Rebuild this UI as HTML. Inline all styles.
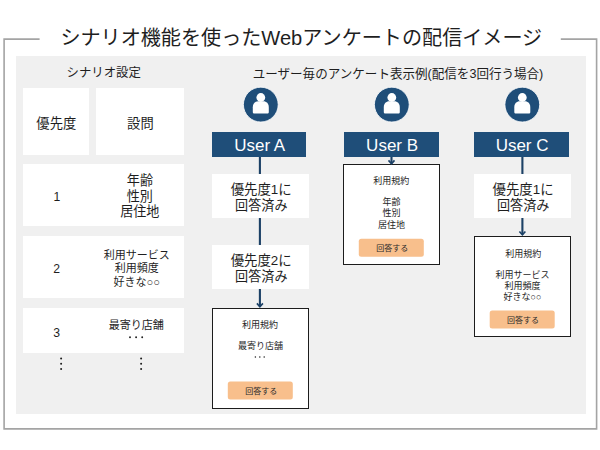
<!DOCTYPE html>
<html lang="ja">
<head>
<meta charset="utf-8">
<title>シナリオ機能を使ったWebアンケートの配信イメージ</title>
<style>
html,body{margin:0;padding:0;background:#fff}
body{width:600px;height:450px;position:relative;overflow:hidden;font-family:"Liberation Sans","Noto Sans CJK JP",sans-serif}
div{position:absolute;box-sizing:border-box}
.panel{background:#f0f0f0}
.w{background:#fff}
.bar{background:#1f4e79}
.form{background:#fff;border:1px solid #1c1c1c}
.btn{background:#f8bf8c;border-radius:2px}
#art{position:absolute;left:0;top:0;width:600px;height:450px}
#art text{font-family:"Liberation Sans","Noto Sans CJK JP",sans-serif;text-anchor:middle;fill:#1e1e1e}
</style>
</head>
<body>
<div class="panel" style="left:16px;top:56px;width:570px;height:358px"></div>
<div class="w" style="left:23px;top:88px;width:66px;height:67px"></div>
<div class="w" style="left:96px;top:88px;width:88px;height:67px"></div>
<div class="w" style="left:23px;top:164px;width:161px;height:62px"></div>
<div class="w" style="left:23px;top:236px;width:161px;height:62px"></div>
<div class="w" style="left:23px;top:308px;width:161px;height:45px"></div>
<div class="bar" style="left:212px;top:132px;width:94px;height:25px"></div>
<div class="bar" style="left:344px;top:132px;width:95px;height:25px"></div>
<div class="bar" style="left:474px;top:132px;width:95px;height:25px"></div>
<div class="w" style="left:212px;top:174px;width:97px;height:44px"></div>
<div class="w" style="left:212px;top:245px;width:97px;height:44px"></div>
<div class="form" style="left:212px;top:308px;width:97px;height:101px"></div>
<div class="form" style="left:343px;top:164px;width:97px;height:101px"></div>
<div class="w" style="left:474px;top:174px;width:97px;height:44px"></div>
<div class="form" style="left:474px;top:236px;width:97px;height:101px"></div>
<svg id="art" width="600" height="450" viewBox="0 0 600 450">
<path d="M39.6 39.1 H4.1 V428.9 H596.6 V39.1 H560.8" fill="none" stroke="#a4a4a4" stroke-width="1.6"/>
<text x="301.3" y="44.6" font-size="20.1">シナリオ機能を使ったWebアンケートの配信イメージ</text>
<text x="103.7" y="77.25" font-size="12.4">シナリオ設定</text>
<text x="56.3" y="128.49" font-size="13.3">優先度</text>
<text x="140.4" y="128.49" font-size="13.3">設問</text>
<text x="56.8" y="201.07" font-size="12.2">1</text>
<text x="139.9" y="185.01" font-size="13.1">年齢</text>
<text x="139.8" y="200.81" font-size="13.1">性別</text>
<text x="139.8" y="216.21" font-size="13.1">居住地</text>
<text x="56.7" y="272.88" font-size="12.2">2</text>
<text x="136.7" y="258.73" font-size="11">利用サービス</text>
<text x="136.7" y="272.32" font-size="11">利用頻度</text>
<text x="136.7" y="286.12" font-size="11">好きな○○</text>
<text x="56.7" y="337.18" font-size="12.2">3</text>
<text x="136.3" y="328.52" font-size="11">最寄り店舗</text>
<circle cx="130.0" cy="337.2" r="0.95" fill="#1e1e1e"/>
<circle cx="136.1" cy="337.2" r="0.95" fill="#1e1e1e"/>
<circle cx="142.2" cy="337.2" r="0.95" fill="#1e1e1e"/>
<circle cx="61.1" cy="358.6" r="1.00" fill="#1e1e1e"/>
<circle cx="61.1" cy="363.8" r="1.00" fill="#1e1e1e"/>
<circle cx="61.1" cy="369.1" r="1.00" fill="#1e1e1e"/>
<circle cx="141.1" cy="358.6" r="1.00" fill="#1e1e1e"/>
<circle cx="141.1" cy="363.8" r="1.00" fill="#1e1e1e"/>
<circle cx="141.1" cy="369.1" r="1.00" fill="#1e1e1e"/>
<text x="398" y="78.01" font-size="12.55">ユーザー毎のアンケート表示例(配信を3回行う場合)</text>
<path d="M259.9 157V174M259.9 218V245M259.9 289V306.5" stroke="#1c4166" stroke-width="2.1" fill="none"/>
<path d="M256.9 303.4 l3.0 3.4 l3.0 -3.4" stroke="#1c4166" stroke-width="1.6" fill="none"/>
<path d="M391.5 157V163.5" stroke="#1c4166" stroke-width="2.1" fill="none"/>
<path d="M388.5 160.4 l3.0 3.4 l3.0 -3.4" stroke="#1c4166" stroke-width="1.6" fill="none"/>
<path d="M522.4 157V174M522.4 218V234.5" stroke="#1c4166" stroke-width="2.1" fill="none"/>
<path d="M519.4 231.5 l3.0 3.4 l3.0 -3.4" stroke="#1c4166" stroke-width="1.6" fill="none"/>
<circle cx="260.8" cy="104.6" r="17.4" fill="#1f4e79" stroke="#fff" stroke-opacity=".8" stroke-width="1"/>
<circle cx="260.8" cy="97.5" r="4.4" fill="#fff"/>
<path fill="#fff" transform="translate(260.8 104.6)" d="M-8 7.3V2.6C-8-1-5.6-3.3-2.6-3.3H2.6C5.6-3.3 8-1 8 2.6V7.3C8 8.4 7.4 8.9 6.3 8.9H-6.3C-7.4 8.9-8 8.4-8 7.3Z"/>
<text x="259.7" y="150.8" font-size="17" style="fill:#fff">User A</text>
<circle cx="391.8" cy="104.6" r="17.4" fill="#1f4e79" stroke="#fff" stroke-opacity=".8" stroke-width="1"/>
<circle cx="391.8" cy="97.5" r="4.4" fill="#fff"/>
<path fill="#fff" transform="translate(391.8 104.6)" d="M-8 7.3V2.6C-8-1-5.6-3.3-2.6-3.3H2.6C5.6-3.3 8-1 8 2.6V7.3C8 8.4 7.4 8.9 6.3 8.9H-6.3C-7.4 8.9-8 8.4-8 7.3Z"/>
<text x="392.1" y="150.8" font-size="17" style="fill:#fff">User B</text>
<circle cx="522.3" cy="104.6" r="17.4" fill="#1f4e79" stroke="#fff" stroke-opacity=".8" stroke-width="1"/>
<circle cx="522.3" cy="97.5" r="4.4" fill="#fff"/>
<path fill="#fff" transform="translate(522.3 104.6)" d="M-8 7.3V2.6C-8-1-5.6-3.3-2.6-3.3H2.6C5.6-3.3 8-1 8 2.6V7.3C8 8.4 7.4 8.9 6.3 8.9H-6.3C-7.4 8.9-8 8.4-8 7.3Z"/>
<text x="522.1" y="150.8" font-size="17" style="fill:#fff">User C</text>
<text x="261.2" y="194.33" font-size="13.4">優先度1に</text>
<text x="261.3" y="210.11" font-size="13.1">回答済み</text>
<text x="261.2" y="265.32" font-size="13.4">優先度2に</text>
<text x="261.3" y="281.11" font-size="13.1">回答済み</text>
<text x="260" y="327.98" font-size="9">利用規約</text>
<text x="260.5" y="349.48" font-size="9">最寄り店舗</text>
<circle cx="255.4" cy="357.0" r="0.75" fill="#1e1e1e"/>
<circle cx="259.8" cy="357.0" r="0.75" fill="#1e1e1e"/>
<circle cx="264.2" cy="357.0" r="0.75" fill="#1e1e1e"/>
<rect x="227.8" y="381.4" width="65" height="18" rx="2.5" fill="#f8bf8c"/>
<text x="261.2" y="393.6" font-size="8" style="fill:#2a2a2a">回答する</text>
<text x="391.2" y="183.97" font-size="9">利用規約</text>
<text x="391.5" y="205.38" font-size="9">年齢</text>
<text x="391.5" y="216.47" font-size="9">性別</text>
<text x="391.5" y="227.57" font-size="9">居住地</text>
<rect x="358.8" y="238.8" width="65" height="18" rx="2.5" fill="#f8bf8c"/>
<text x="392.2" y="251" font-size="8" style="fill:#2a2a2a">回答する</text>
<text x="523.1" y="194.33" font-size="13.4">優先度1に</text>
<text x="523.2" y="210.11" font-size="13.1">回答済み</text>
<text x="523.2" y="256.68" font-size="9">利用規約</text>
<text x="522.4" y="278.38" font-size="9">利用サービス</text>
<text x="522.4" y="289.38" font-size="9">利用頻度</text>
<text x="522.4" y="300.38" font-size="9">好きな○○</text>
<rect x="489.7" y="310.4" width="65" height="18" rx="2.5" fill="#f8bf8c"/>
<text x="523.1" y="322.6" font-size="8" style="fill:#2a2a2a">回答する</text>
</svg>
</body>
</html>
